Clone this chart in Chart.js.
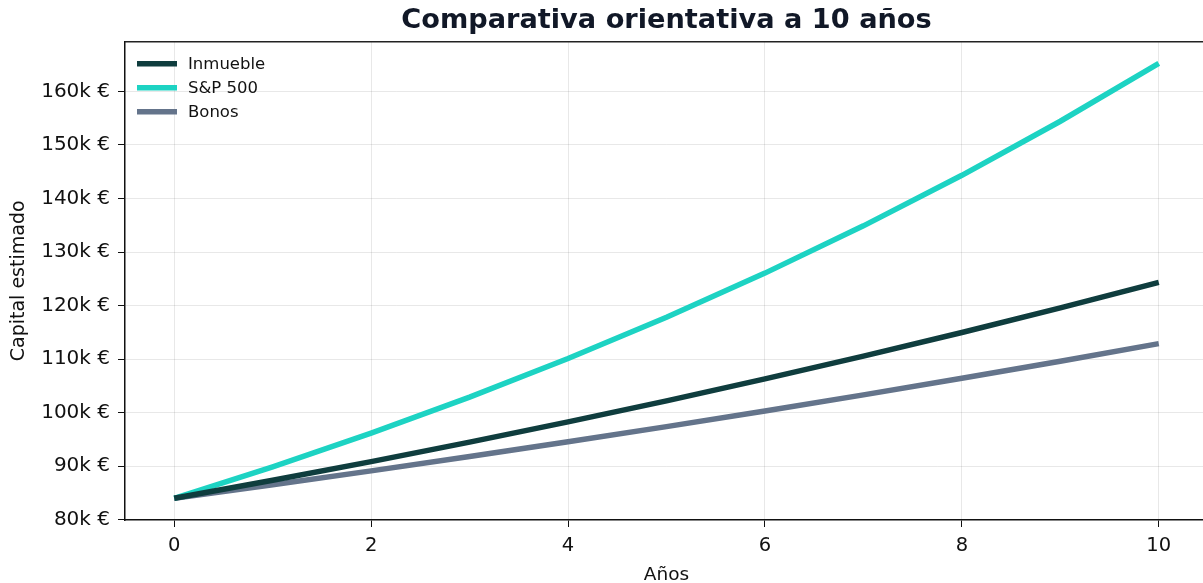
<!DOCTYPE html>
<html>
<head>
<meta charset="utf-8">
<script src="https://cdn.jsdelivr.net/npm/chart.js@4.4.1/dist/chart.umd.min.js"></script>
<style>
    html, body { margin: 0; padding: 0; background: #fff; overflow: hidden; }
    #wrap { width: 1210px; height: 583px; }
</style>
</head>
<body>
<div id="wrap"><canvas id="capChart" width="1210" height="583"></canvas></div>
<script>
// data
const years = [0, 1, 2, 3, 4, 5, 6, 7, 8, 9, 10];
const inmueble = [84000, 87360, 90850, 94490, 98270, 102200, 106290, 110540, 114960, 119560, 124340];
const sp500 = [84000, 89880, 96170, 102900, 110110, 117820, 126060, 134890, 144330, 154430, 165240];
const bonos = [84000, 86520, 89120, 91790, 94540, 97380, 100300, 103310, 106410, 109600, 112890];
const xTicks = [0, 2, 4, 6, 8, 10];
const yTicks = [80000, 90000, 100000, 110000, 120000, 130000, 140000, 150000, 160000];

const FONT = "'DejaVu Sans', sans-serif";

const toPoints = (vals) => vals.map((v, i) => ({ x: years[i], y: v }));

// top spine + legend inside plot (matplotlib style)
const extras = {
    id: 'extras',
    afterDraw(chart) {
        const c = chart.ctx;
        const a = chart.chartArea;
        c.save();
        c.strokeStyle = '#222';
        c.lineWidth = 1.5;
        c.beginPath();
        c.moveTo(a.left, a.top);
        c.lineTo(a.right, a.top);
        c.stroke();

        c.font = '16.5px ' + FONT;
        c.textBaseline = 'middle';
        chart.data.datasets.forEach((ds, i) => {
            const y = a.top + 22 + i * 24;
            c.strokeStyle = ds.borderColor;
            c.lineWidth = 5.5;
            c.beginPath();
            c.moveTo(a.left + 12, y);
            c.lineTo(a.left + 52, y);
            c.stroke();
            c.fillStyle = '#111';
            c.fillText(ds.label, a.left + 63, y + 1);
        });
        c.restore();
    }
};

const ctx = document.getElementById('capChart').getContext('2d');

const capChart = new Chart(ctx, {
    type: 'line',
    data: {
        datasets: [
            { label: 'Inmueble', data: toPoints(inmueble), borderColor: '#0f3d3e' },
            { label: 'S&P 500', data: toPoints(sp500), borderColor: '#1dd3c3' },
            { label: 'Bonos', data: toPoints(bonos), borderColor: '#64748b' }
        ]
    },
    options: {
        responsive: false,
        animation: false,
        parsing: false,
        layout: { padding: { left: 0, right: 2, top: 0, bottom: 0 } },
        elements: {
            line: { borderWidth: 5.5, tension: 0, borderCapStyle: 'butt' },
            point: { radius: 0 }
        },
        plugins: {
            legend: { display: false },
            tooltip: { enabled: false },
            title: {
                display: true,
                fullSize: false,
                text: 'Comparativa orientativa a 10 años',
                color: '#111827',
                font: { family: FONT, size: 27.2, weight: 'bold' },
                padding: { top: 5, bottom: 4 }
            }
        },
        scales: {
            x: {
                type: 'linear',
                min: -0.5,
                max: 10.5,
                afterBuildTicks: (s) => { s.ticks = xTicks.map(v => ({ value: v })); },
                afterFit: (s) => { s.height = 63; },
                grid: { color: 'rgba(0,0,0,0.09)', tickColor: '#111', tickLength: 7, lineWidth: 1 },
                border: { color: '#111', width: 1.5 },
                ticks: { color: '#111', font: { family: FONT, size: 19.5 }, padding: 7, maxRotation: 0 },
                title: { display: true, text: 'Años', color: '#111', font: { family: FONT, size: 18.5 }, padding: { top: 0, bottom: -3 } }
            },
            y: {
                min: 79938,
                max: 169300,
                afterBuildTicks: (s) => { s.ticks = yTicks.map(v => ({ value: v })); },
                afterFit: (s) => { s.width = 125; },
                grid: { color: 'rgba(0,0,0,0.09)', tickColor: '#111', tickLength: 7, lineWidth: 1 },
                border: { color: '#111', width: 1.5 },
                ticks: {
                    color: '#111',
                    font: { family: FONT, size: 20 },
                    padding: 8,
                    callback: (v) => (v / 1000) + 'k €'
                },
                title: { display: true, text: 'Capital estimado', color: '#111', font: { family: FONT, size: 19 }, padding: { top: 8, bottom: 0 } }
            }
        }
    },
    plugins: [extras]
});
</script>
</body>
</html>
